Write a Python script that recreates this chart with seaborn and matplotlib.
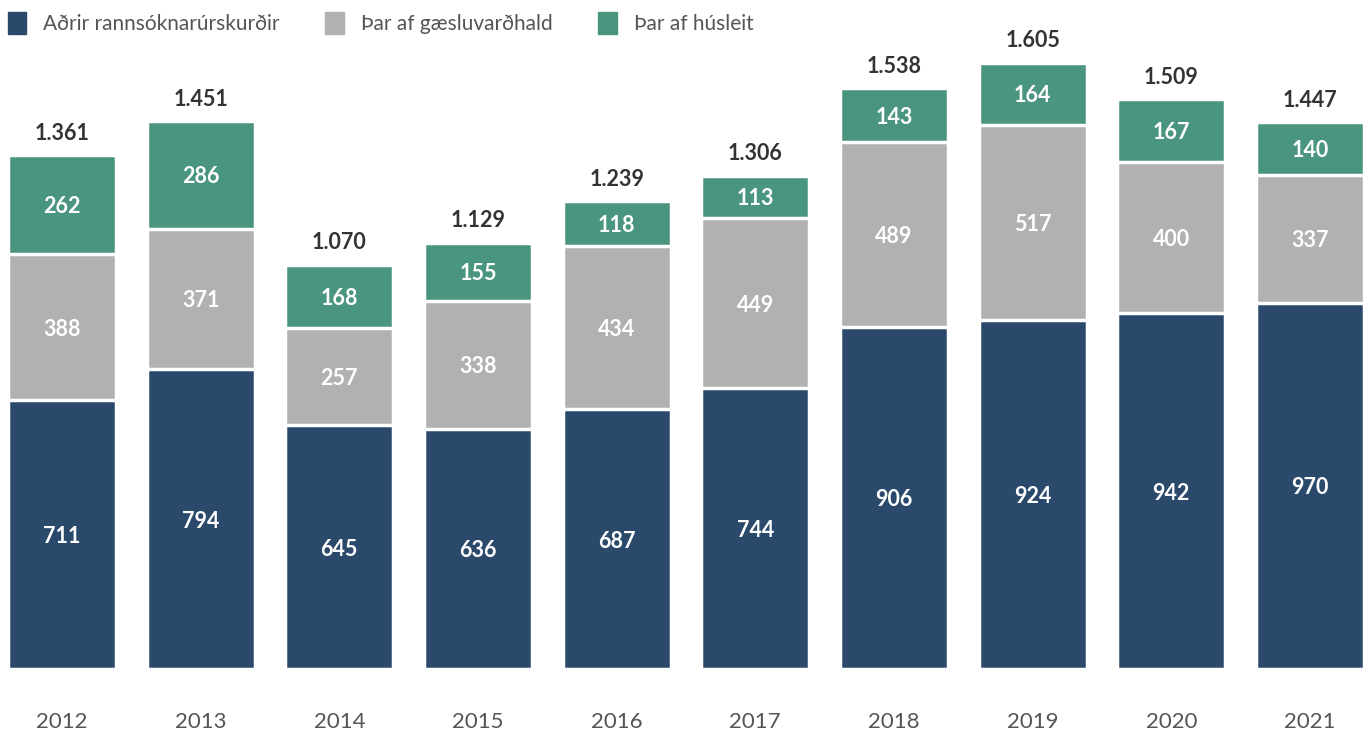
import pandas as pd
import matplotlib.pyplot as plt
import seaborn as sns
from matplotlib.patches import Patch

# Data
years = ['2012', '2013', '2014', '2015', '2016', '2017', '2018', '2019', '2020', '2021']
adrir = [711, 794, 645, 636, 687, 744, 906, 924, 942, 970]
gaesla = [388, 371, 257, 338, 434, 449, 489, 517, 400, 337]
husleit = [262, 286, 168, 155, 118, 113, 143, 164, 167, 140]
labels = ['Aðrir rannsóknarúrskurðir', 'Þar af gæsluvarðhald', 'Þar af húsleit']

c_blue = '#2b4a6b'
c_gray = '#b1b1b1'
c_green = '#4a9580'

df = pd.DataFrame({'year': years, 'adrir': adrir, 'gaesla': gaesla, 'husleit': husleit})
df['lvl2'] = df['adrir'] + df['gaesla']
df['total'] = df['lvl2'] + df['husleit']

sns.set_style('white')
plt.rcParams['font.family'] = ['Lato', 'DejaVu Sans']

fig = plt.figure(figsize=(13.7, 7.33), dpi=100)
ax = fig.add_axes([0, 1 - 669 / 733, 1, 669 / 733])

# stack by drawing cumulative heights back to front
for col, color in [('total', c_green), ('lvl2', c_gray), ('adrir', c_blue)]:
    sns.barplot(data=df, x='year', y=col, color=color, width=0.78, saturation=1,
                edgecolor='white', linewidth=2.5, ax=ax)

ax.set_xlim(-0.447, 9.433)
ax.set_ylim(0, 1771)

for i, row in df.iterrows():
    ax.text(i, row['adrir'] / 2, str(row['adrir']), ha='center', va='center_baseline',
            color='white', fontsize=15.5, fontweight='bold')
    ax.text(i, row['adrir'] + row['gaesla'] / 2, str(row['gaesla']), ha='center',
            va='center_baseline', color='white', fontsize=15.5, fontweight='bold')
    ax.text(i, row['lvl2'] + row['husleit'] / 2, str(row['husleit']), ha='center',
            va='center_baseline', color='white', fontsize=15.5, fontweight='bold')
    tot = f"{row['total']:,}".replace(',', '.')
    ax.text(i, row['total'] + 30, tot, ha='center', va='bottom',
            color='#333333', fontsize=15.5, fontweight='bold')

ax.set_xlabel('')
ax.set_ylabel('')
ax.set_yticks([])
ax.tick_params(axis='x', length=0, pad=31, labelsize=16, labelcolor='#555555')
sns.despine(ax=ax, left=True, bottom=True)

handles = [Patch(color=c, label=l) for c, l in zip([c_blue, c_gray, c_green], labels)]
fig.legend(handles=handles, loc='upper left', bbox_to_anchor=(-0.005, 1.004), ncol=3,
           frameon=False, fontsize=15, labelcolor='#555555', handlelength=0.9,
           handleheight=1.3, handletextpad=0.8, columnspacing=2.2, borderaxespad=0.3)

fig.savefig('out.png', dpi=100)
